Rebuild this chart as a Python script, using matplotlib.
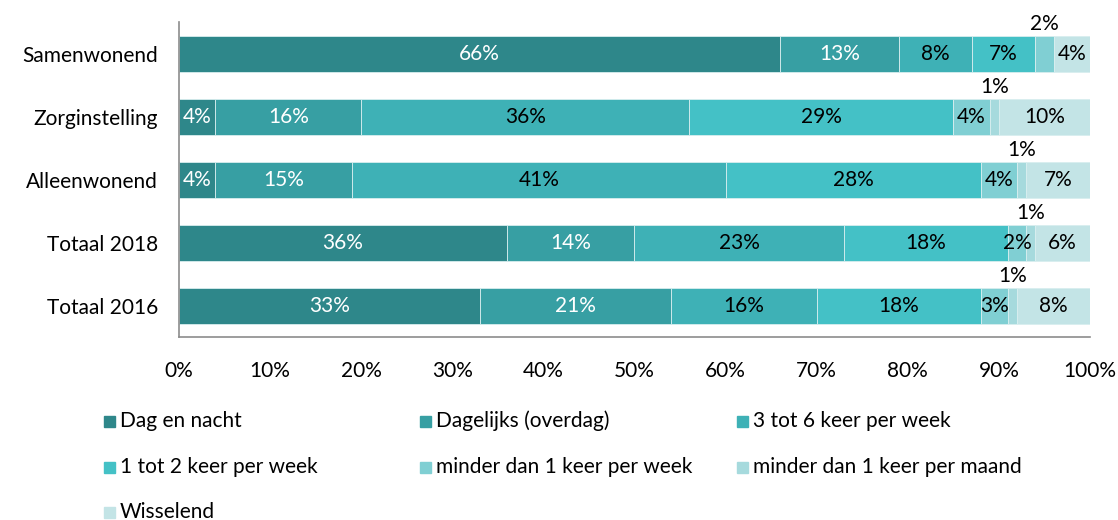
import matplotlib
matplotlib.use("Agg")
import matplotlib.pyplot as plt
from matplotlib.patches import Rectangle
import numpy as np

plt.rcParams['font.family'] = ['Lato', 'DejaVu Sans']

categories = ["Samenwonend", "Zorginstelling", "Alleenwonend", "Totaal 2018", "Totaal 2016"]
series_names = ["Dag en nacht", "Dagelijks (overdag)", "3 tot 6 keer per week",
                "1 tot 2 keer per week", "minder dan 1 keer per week",
                "minder dan 1 keer per maand", "Wisselend"]
dag_en_nacht = [66, 4, 4, 36, 33]
dagelijks = [13, 16, 15, 14, 21]
drie_tot_zes = [8, 36, 41, 23, 16]
een_tot_twee = [7, 29, 28, 18, 18]
minder_week = [2, 4, 4, 2, 3]
minder_maand = [0, 1, 1, 1, 1]
wisselend = [4, 10, 7, 6, 8]
series = [dag_en_nacht, dagelijks, drie_tot_zes, een_tot_twee,
          minder_week, minder_maand, wisselend]

colors = ["#2e878a", "#379fa3", "#3eb1b6", "#44c1c6", "#80cfd3", "#a6dadd", "#c3e4e6"]
text_colors = ["white", "white", "black", "black", "black", "black", "black"]
FS = 15
W, H = 1118, 520

fig = plt.figure(figsize=(W / 100, H / 100), dpi=100)
ax = fig.add_axes([0.160, 0.351, 0.815, 0.606])

y = np.arange(len(categories))
left = np.zeros(len(categories))
for vals, name, col, tcol in zip(series, series_names, colors, text_colors):
    vals = np.array(vals, dtype=float)
    ax.barh(y, vals, left=left, height=0.57, color=col, label=name,
            edgecolor="#d8eeef", linewidth=0.6)
    for yi, v, l in zip(y, vals, left):
        if v <= 0:
            continue
        if v < 2 or (v == 2 and yi == 0):
            # small segments get their label above the bar
            ax.text(l + v / 2, yi - 0.31, f"{int(v)}%", ha="center", va="bottom",
                    fontsize=FS, color="black")
        else:
            ax.text(l + v / 2, yi, f"{int(v)}%", ha="center", va="center",
                    fontsize=FS, color=tcol)
    left += vals

ax.set_xlim(0, 100)
ax.set_ylim(len(categories) - 0.5, -0.5)
ax.set_yticks(y)
ax.set_yticklabels(categories, fontsize=FS)
ax.set_xticks(np.arange(0, 101, 10))
ax.set_xticklabels([f"{t}%" for t in range(0, 101, 10)], fontsize=FS)
ax.tick_params(length=0)
ax.tick_params(axis="y", pad=15)
ax.tick_params(axis="x", pad=17)
for s in ["top", "right"]:
    ax.spines[s].set_visible(False)
for s in ["left", "bottom"]:
    ax.spines[s].set_color("#8c8c8c")
    ax.spines[s].set_linewidth(1.2)

# legend laid out row by row, like the original (pixel positions)
col_x = [104, 420, 737]
row_y = [421, 467, 512]
sq = 11
for i, (name, col) in enumerate(zip(series_names, colors)):
    px = col_x[i % 3]
    py = row_y[i // 3]
    fig.add_artist(Rectangle((px / W, (H - py - sq / 2) / H), sq / W, sq / H,
                             transform=fig.transFigure, color=col))
    fig.text((px + sq + 5) / W, (H - py) / H, name, fontsize=FS,
             ha="left", va="center")

fig.savefig("out.png", dpi=100)
